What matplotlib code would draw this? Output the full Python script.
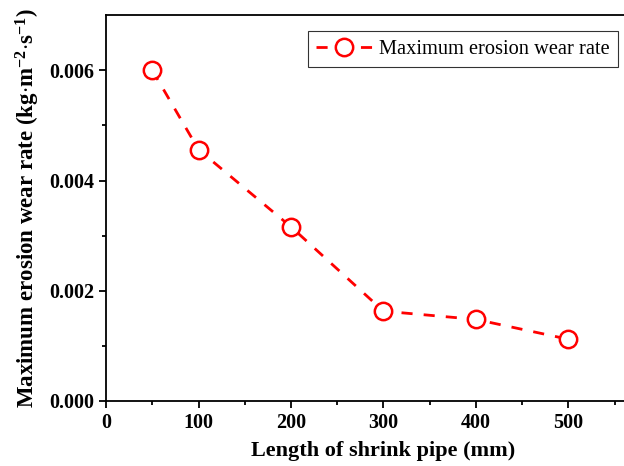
import numpy as np
import matplotlib
matplotlib.use("Agg")
import matplotlib.pyplot as plt

plt.rcParams['font.family'] = ['Liberation Serif', 'DejaVu Serif']
plt.rcParams['mathtext.fontset'] = 'custom'
plt.rcParams['mathtext.rm'] = 'Liberation Serif:bold'
plt.rcParams['mathtext.bf'] = 'Liberation Serif:bold'
plt.rcParams['mathtext.default'] = 'rm'

# data
longitud = [50, 100, 200, 300, 400, 500]
desgaste = [0.0060, 0.00456, 0.00316, 0.00163, 0.00148, 0.00112]

fig = plt.figure(figsize=(6.24, 4.66), dpi=100)
ax = fig.add_axes([0.17, 0.1395, 0.889, 0.828])

ax.plot(longitud, desgaste, color='red', linestyle=(0, (4, 4)), linewidth=2.0,
        marker='o', markersize=12.5, markerfacecolor='white', markeredgecolor='red',
        markeredgewidth=1.8, label='Maximum erosion wear rate')

ax.set_xlim(0, 600)
ax.set_ylim(0, 0.007)
ax.set_xticks([0, 100, 200, 300, 400, 500])
ax.set_xticks(np.arange(50, 600, 100), minor=True)
ax.set_yticks([0.000, 0.002, 0.004, 0.006])
ax.set_yticks([0.001, 0.003, 0.005], minor=True)
ax.set_yticklabels(['0.000', '0.002', '0.004', '0.006'])

for lab in ax.get_xticklabels() + ax.get_yticklabels():
    lab.set_fontweight('bold')
    lab.set_fontsize(14.5)

ax.tick_params(which='major', direction='out', length=5, width=1.3)
ax.tick_params(which='minor', direction='out', length=3, width=1.3)
for s in ax.spines.values():
    s.set_linewidth(1.3)

ax.set_xlabel('Length of shrink pipe (mm)', fontsize=16, fontweight='bold', labelpad=6)
ax.set_ylabel(r'Maximum erosion wear rate (kg$\cdot$m$^{-2}$$\cdot$s$^{-1}$)',
              fontsize=16.5, fontweight='bold', labelpad=5)

leg = ax.legend(loc='upper right', bbox_to_anchor=(0.990, 0.933),
                bbox_transform=fig.transFigure, fontsize=14.7, frameon=True,
                fancybox=False, edgecolor='black', handlelength=2.8,
                borderpad=0.4, handletextpad=0.3, borderaxespad=0)
leg.get_frame().set_linewidth(0.8)

fig.savefig('out.png', dpi=100)
